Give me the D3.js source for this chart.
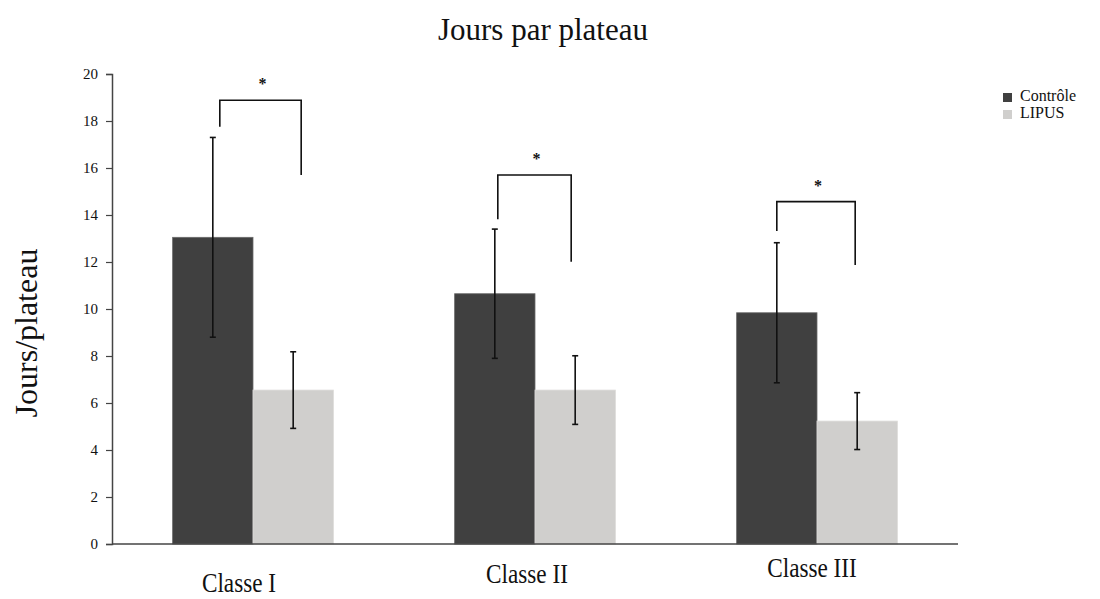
<!DOCTYPE html>
<html lang="fr">
  <head>
    <meta charset="UTF-8" />
    <script src="https://d3js.org/d3.v7.min.js"></script>
    <title>Jours par plateau</title>
    <style>
      body { margin: 0; background: #fff; }
      text { font-family: "Liberation Serif", "Times New Roman", serif; fill: #111; }
    </style>
  </head>
  <body>
    <div id="my_dataviz"></div>

    <script>
      // data
      var classes = ["Classe I", "Classe II", "Classe III"]
      var groups = ["Contrôle", "LIPUS"]
      var controle = [13.05, 10.65, 9.84]
      var controleSd = [4.25, 2.75, 2.98]
      var lipus = [6.55, 6.55, 5.23]
      var lipusSd = [1.63, 1.46, 1.21]
      var yTicks = [0, 2, 4, 6, 8, 10, 12, 14, 16, 18, 20]
      // significance brackets: height of the bar and bottom of each leg (days)
      var bracketTop = [18.88, 15.70, 14.57]
      var bracketLeft = [17.76, 13.82, 13.32]
      var bracketRight = [15.70, 12.01, 11.87]
      var bracketMark = ["*", "*", "*"]

      // set the dimensions of the graph
      var width = 1100,
          height = 599,
          plotLeft = 112,
          plotRight = 958,
          plotTop = 74,
          plotBottom = 544

      var svg = d3.select("#my_dataviz")
        .append("svg")
          .attr("width", width)
          .attr("height", height)

      // scales
      var x = d3.scaleBand()
        .domain(classes)
        .range([plotLeft, plotRight])
        .paddingInner(0.43)
        .paddingOuter(0.215)

      var xSub = d3.scaleBand()
        .domain(groups)
        .range([0, x.bandwidth()])

      var y = d3.scaleLinear()
        .domain([0, 20])
        .range([plotBottom, plotTop])

      var color = d3.scaleOrdinal()
        .domain(groups)
        .range(["#404040", "#d0cfcd"])

      // rows for the bars
      var rows = classes.map(function(c, i) {
        return [
          { cls: c, key: "Contrôle", value: controle[i], sd: controleSd[i] },
          { cls: c, key: "LIPUS", value: lipus[i], sd: lipusSd[i] }
        ]
      })

      // title
      svg.append("text")
        .attr("x", 543)
        .attr("y", 40)
        .attr("text-anchor", "middle")
        .style("font-size", "31px")
        .text("Jours par plateau")

      // y axis
      var yAxis = svg.append("g")
        .attr("transform", "translate(" + plotLeft + ",0)")
        .call(d3.axisLeft(y).tickValues(yTicks).tickSize(6).tickPadding(8))
      yAxis.select(".domain").attr("stroke", "#444").attr("stroke-width", 1.5)
      yAxis.selectAll(".tick line").attr("stroke", "#444").attr("stroke-width", 1.2)
      yAxis.selectAll(".tick text")
        .style("font-family", "'Liberation Serif', serif")
        .style("font-size", "15px")
        .attr("fill", "#111")

      svg.append("text")
        .attr("transform", "translate(37," + 333 + ") rotate(-90)")
        .attr("text-anchor", "middle")
        .style("font-size", "32px")
        .text("Jours/plateau")

      // bars
      var g = svg.selectAll(".grp")
        .data(rows)
        .enter()
        .append("g")
          .attr("transform", function(d) { return "translate(" + x(d[0].cls) + ",0)" })

      g.selectAll("rect")
        .data(function(d) { return d })
        .enter()
        .append("rect")
          .attr("x", function(d) { return xSub(d.key) })
          .attr("y", function(d) { return y(d.value) })
          .attr("width", xSub.bandwidth())
          .attr("height", function(d) { return y(0) - y(d.value) })
          .attr("fill", function(d) { return color(d.key) })
          .attr("stroke", function(d) { return d.key == "LIPUS" ? "#dcdbd9" : "#6a6a6a" })
          .attr("stroke-width", 0.8)

      // error bars
      var err = g.selectAll(".err")
        .data(function(d) { return d })
        .enter()
        .append("g")
          .attr("transform", function(d) { return "translate(" + (xSub(d.key) + xSub.bandwidth() / 2) + ",0)" })
      err.append("line")
        .attr("y1", function(d) { return y(d.value + d.sd) })
        .attr("y2", function(d) { return y(d.value - d.sd) })
        .attr("stroke", "#111")
        .attr("stroke-width", 1.6)
      err.selectAll(".cap")
        .data(function(d) { return [d.value + d.sd, d.value - d.sd] })
        .enter()
        .append("line")
          .attr("x1", -3).attr("x2", 3)
          .attr("y1", function(v) { return y(v) })
          .attr("y2", function(v) { return y(v) })
          .attr("stroke", "#111")
          .attr("stroke-width", 1.6)

      // x axis line
      svg.append("line")
        .attr("x1", plotLeft).attr("x2", plotRight)
        .attr("y1", plotBottom).attr("y2", plotBottom)
        .attr("stroke", "#444")
        .attr("stroke-width", 1.6)

      // category labels (the original text is a bit condensed)
      var labelShift = [-14, -8, -5]
      var labelY = [592, 583, 577]
      svg.selectAll(".xlab")
        .data(classes)
        .enter()
        .append("text")
          .attr("transform", function(d, i) {
            return "translate(" + (x(d) + x.bandwidth() / 2 + labelShift[i]) + "," + labelY[i] + ") scale(0.86,1.05)"
          })
          .attr("text-anchor", "middle")
          .style("font-size", "27px")
          .text(function(d) { return d })

      // significance brackets
      var nudgeL = [7, 3, 0], nudgeR = [8, -4, -2]
      classes.forEach(function(c, i) {
        var xl = x(c) + xSub("Contrôle") + xSub.bandwidth() / 2 + nudgeL[i]
        var xr = x(c) + xSub("LIPUS") + xSub.bandwidth() / 2 + nudgeR[i]
        svg.append("path")
          .attr("d", "M" + xl + "," + y(bracketLeft[i]) + "V" + y(bracketTop[i]) +
                     "H" + xr + "V" + y(bracketRight[i]))
          .attr("fill", "none")
          .attr("stroke", "#111")
          .attr("stroke-width", 1.6)
        svg.append("text")
          .attr("x", (xl + xr) / 2 + 2)
          .attr("y", y(bracketTop[i]) - 11)
          .attr("text-anchor", "middle")
          .style("font-size", "16px")
          .style("font-weight", "bold")
          .text(bracketMark[i])
      })

      // legend
      var legend = svg.selectAll(".leg")
        .data(groups)
        .enter()
        .append("g")
          .attr("transform", function(d, i) { return "translate(1003," + (91 + i * 17) + ")" })
      legend.append("rect")
        .attr("y", 2)
        .attr("width", 9).attr("height", 9)
        .attr("fill", function(d) { return color(d) })
      legend.append("text")
        .attr("x", 17)
        .attr("y", 10)
        .style("font-size", "16px")
        .text(function(d) { return d })
    </script>
  </body>
</html>
